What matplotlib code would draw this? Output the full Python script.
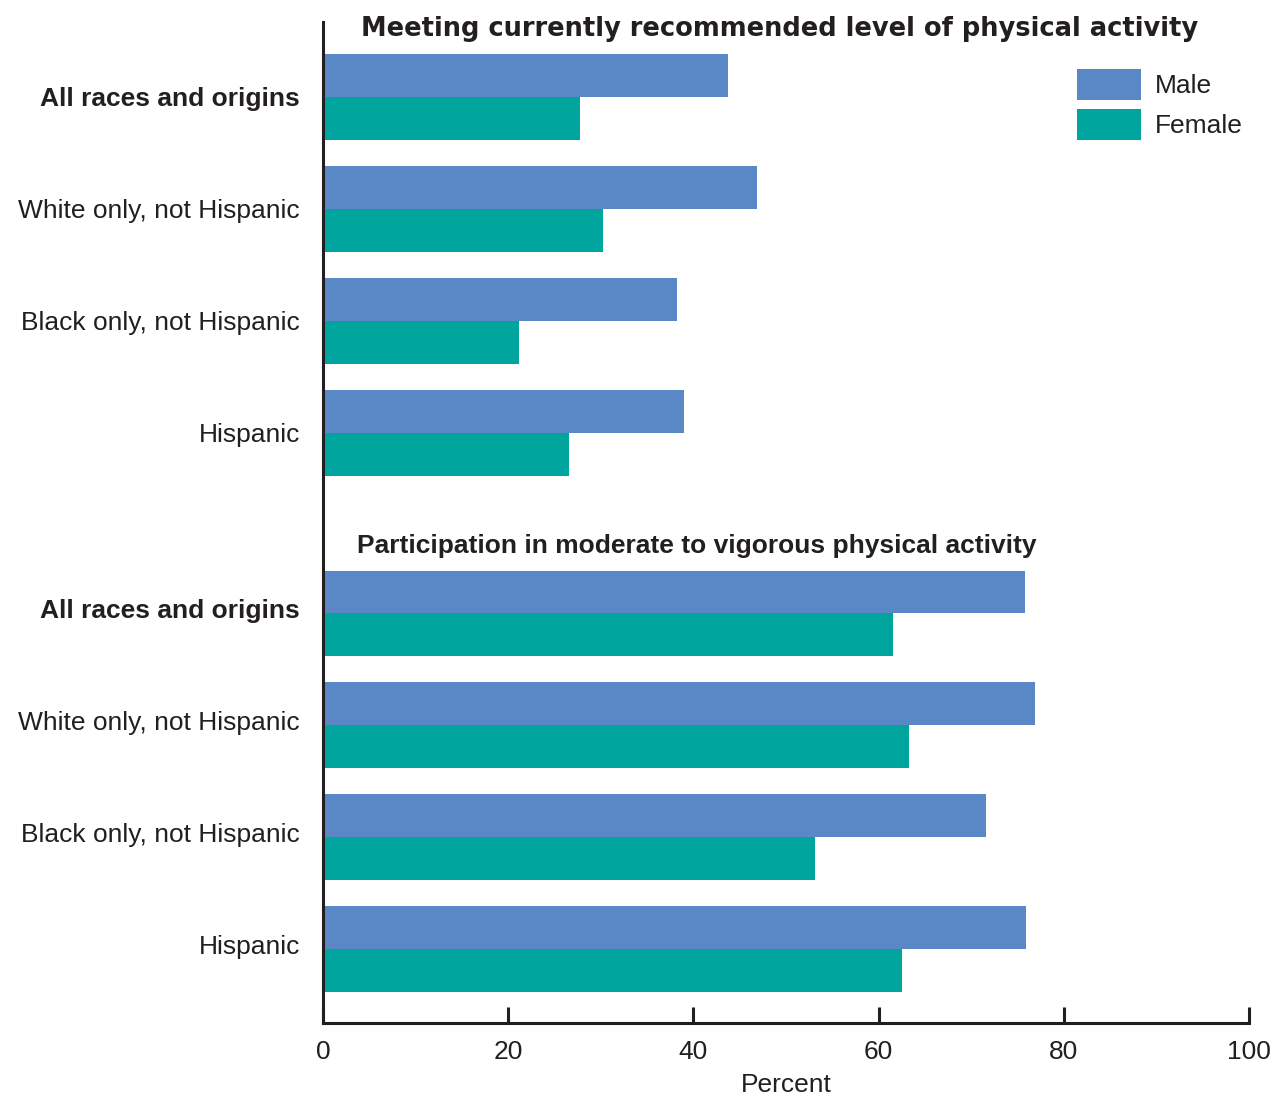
import matplotlib
matplotlib.use("Agg")
import matplotlib.pyplot as plt
import numpy as np
from matplotlib.patches import Patch

plt.rcParams['font.family'] = ['Liberation Sans', 'DejaVu Sans']

groups = ["All races and origins", "White only, not Hispanic",
          "Black only, not Hispanic", "Hispanic"]
section_titles = ["Meeting currently recommended level of physical activity",
                  "Participation in moderate to vigorous physical activity"]
male_recommended = [43.7, 46.9, 38.2, 39.0]
female_recommended = [27.8, 30.2, 21.2, 26.6]
male_participation = [75.8, 76.9, 71.6, 75.9]
female_participation = [61.6, 63.3, 53.1, 62.5]
xticks = [0, 20, 40, 60, 80, 100]

MALE = "#5A88C6"
FEMALE = "#00A69D"
INK = "#231F20"
FS = 19

fig = plt.figure(figsize=(12.74, 10.97), dpi=100)
ax = fig.add_axes([323/1274, 1-1023/1097, (1249-323)/1274, (1023-22)/1097])

gap = 0.616
h = 0.384
top_pos = np.arange(4)
bot_pos = np.arange(4) + 4 + gap

ax.barh(top_pos - h/2, male_recommended, height=h, color=MALE, linewidth=0)
ax.barh(top_pos + h/2, female_recommended, height=h, color=FEMALE, linewidth=0)
ax.barh(bot_pos - h/2, male_participation, height=h, color=MALE, linewidth=0)
ax.barh(bot_pos + h/2, female_participation, height=h, color=FEMALE, linewidth=0)

ax.set_xlim(0, 100)
ax.set_ylim(bot_pos[-1] + 0.66, -0.67)

ax.set_yticks(list(top_pos + 0.02) + list(bot_pos - 0.02))
ax.set_yticklabels(groups + groups)
for i, lab in enumerate(ax.get_yticklabels()):
    lab.set_fontsize(FS)
    lab.set_color(INK)
    lab.set_verticalalignment('center')
    if i % 4 == 0:
        lab.set_fontweight('bold')
ax.tick_params(axis='y', length=0, pad=16.5)

ax.set_xticks(xticks)
ax.set_xticklabels([str(t) for t in xticks], fontsize=FS, color=INK)
ax.tick_params(axis='x', direction='in', length=11.5, width=2.2, color=INK, pad=12)
ax.set_xlabel("Percent", fontsize=FS, color=INK, labelpad=7)

for s in ['top', 'right']:
    ax.spines[s].set_visible(False)
for s in ['left', 'bottom']:
    ax.spines[s].set_linewidth(2.2)
    ax.spines[s].set_color(INK)

ax.text(49.3, -0.67 + 0.06, section_titles[0], fontsize=18.5, fontweight='bold',
        family='DejaVu Sans', color=INK, ha='center', va='center')
ax.text(40.4, bot_pos[0] - 0.6, section_titles[1], fontsize=FS, fontweight='bold',
        color=INK, ha='center', va='center')

handles = [Patch(facecolor=MALE, edgecolor='none', label='Male'),
           Patch(facecolor=FEMALE, edgecolor='none', label='Female')]
fig.legend(handles=handles, loc='upper left',
           bbox_to_anchor=(1077/1274, 1-69/1097), frameon=False,
           fontsize=FS, handlelength=2.43, handleheight=1.43,
           labelspacing=0.34, handletextpad=0.53, borderpad=0, borderaxespad=0,
           labelcolor=INK)

fig.savefig("out.png", dpi=100)
